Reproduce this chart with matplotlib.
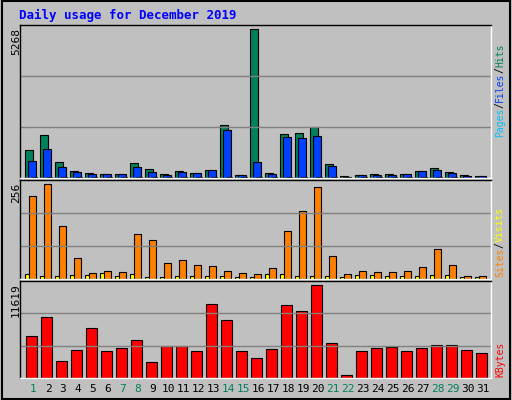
import matplotlib
matplotlib.use("Agg")
import matplotlib.pyplot as plt
import numpy as np

days = list(range(1, 32))
hits = [996,1532,564,240,168,132,132,528,312,132,240,168,276,1860,96,5268,168,1572,1608,1788,492,60,96,132,132,132,240,348,204,96,60]
files = [600,1032,384,204,132,132,132,384,204,96,204,168,276,1680,96,564,132,1464,1428,1500,420,24,96,96,96,132,240,276,168,60,60]
pages = [40,45,35,30,25,25,25,35,30,25,30,25,30,50,20,40,25,45,45,50,30,15,20,25,25,25,30,30,25,15,15]
sites = [225,256,144,58,16,21,19,122,105,44,52,38,35,21,16,13,30,130,183,248,63,13,21,19,19,21,33,80,38,7,7]
visits = [13,7,7,10,10,16,7,13,5,5,7,7,7,7,5,5,13,13,7,7,7,5,10,10,7,7,7,10,10,5,5]
kbytes = [5258,7675,2078,3477,6275,3350,3731,4749,1950,3986,3986,3350,9201,7293,3350,2459,3604,9074,8438,11619,4367,424,3350,3731,3858,3350,3731,4113,4113,3477,3095]
weekend = {1,7,8,14,15,21,22,28,29}

W, H = 512, 400
fig = plt.figure(figsize=(W/100, H/100), dpi=100, facecolor="#c0c0c0")
mono = "DejaVu Sans Mono"

def px_axes(x0, y0, x1, y1):
    ax = fig.add_axes([x0/W, 1-y1/H, (x1-x0)/W, (y1-y0)/H])
    ax.set_facecolor("#c0c0c0")
    ax.set_xlim(1-13/15, 1+(x1-33)/15)
    ax.set_xticks([]); ax.set_yticks([])
    for s in ax.spines.values():
        s.set_color("black"); s.set_linewidth(1)
    ax.spines["right"].set_color("white"); ax.spines["bottom"].set_color("white")
    return ax

fig.add_artist(plt.Rectangle((0.003, 0.003), 0.994, 0.994, transform=fig.transFigure, fill=False, ec="black", lw=1.5))
fig.text(19/W, 1-15/H, "Daily usage for December 2019", color="#0000ff", family=mono, weight="bold", fontsize=9, va="center")

d = np.array(days)
ax1 = px_axes(20, 25, 491, 178)
top = 5268*151/147
ax1.set_ylim(0, top)
for g in (top/3, 2*top/3):
    ax1.axhline(g, color="#808080", lw=1)
ax1.bar(d-0.26, hits, width=0.5, color="#00805c", ec="black", lw=0.8)
ax1.bar(d-0.08, files, width=0.5, color="#0040ff", ec="black", lw=0.8)
ax1.bar(d+0.07, pages, width=0.45, color="#00c0ff", ec="black", lw=0.8)
fig.text(16/W, 1-28/H, "5268", rotation=90, family=mono, fontsize=8, ha="center", va="top")

ax2 = px_axes(20, 180, 491, 279)
top2 = 256*96/92
ax2.set_ylim(0, top2)
for g in (top2/3, 2*top2/3):
    ax2.axhline(g, color="#808080", lw=1)
ax2.bar(d-0.37, visits, width=0.3, color="#ffff00", ec="black", lw=0.8)
ax2.bar(d-0.02, sites, width=0.47, color="#ff8000", ec="black", lw=0.8)
fig.text(16/W, 1-183/H, "256", rotation=90, family=mono, fontsize=8, ha="center", va="top")

ax3 = px_axes(20, 281, 491, 378)
top3 = 11619*95/91
ax3.set_ylim(0, top3)
for g in (top3/3, 2*top3/3):
    ax3.axhline(g, color="#808080", lw=1)
ax3.bar(d-0.1, kbytes, width=0.69, color="#ff0000", ec="black", lw=0.8)
fig.text(16/W, 1-283/H, "11619", rotation=90, family=mono, fontsize=8, ha="center", va="top")

for i in days:
    fig.text((33+15*(i-1))/W, 1-389/H, str(i), ha="center", va="center", fontsize=8, family=mono,
             color="#00805c" if i in weekend else "black")

FS = 7
CW = 0.6*FS*100/72

def vlabel(parts, y_bottom):
    y = y_bottom
    for txt, col in parts:
        fig.text(500/W, 1-y/H, txt, rotation=90, color=col, family=mono, fontsize=FS,
                 ha="center", va="bottom")
        y -= CW*len(txt)

vlabel([("Pages", "#00c0ff"), ("/", "black"), ("Files", "#0040ff"), ("/", "black"), ("Hits", "#00805c")], 137)
vlabel([("Sites", "#ff8000"), ("/", "black"), ("Visits", "#ffff00")], 277)
vlabel([("KBytes", "#ff0000")], 377)

fig.savefig("out.png", dpi=100, facecolor=fig.get_facecolor())
